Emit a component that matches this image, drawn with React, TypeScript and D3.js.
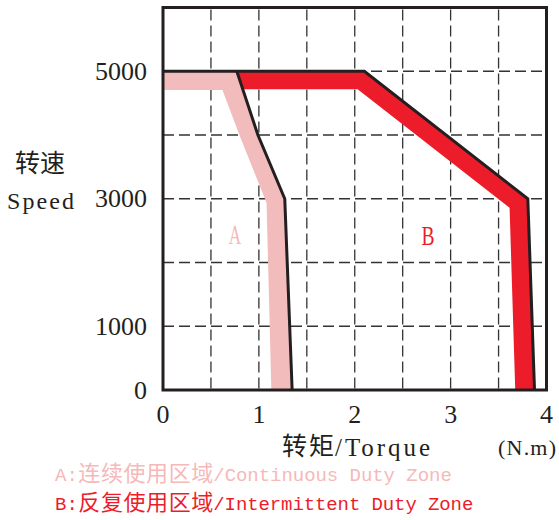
import React from "react";
import * as d3 from "d3";

const xTicks = [0, 1, 2, 3, 4];
const yTicks = [0, 1000, 3000, 5000];
const gridX = [0.5, 1, 1.5, 2, 2.5, 3, 3.5];
const gridY = [1000, 2000, 3000, 4000, 5000];

// Continuous duty zone (A)
const contOuterTorque = [0, 0.77, 0.99, 1.27, 1.347];
const contOuterSpeed = [5000, 5000, 4000, 3000, 0];
const contInnerTorque = [0, 0.62, 0.8, 1.08, 1.13];
const contInnerSpeed = [4706, 4706, 3990, 2937, 0];

// Intermittent duty zone (B)
const intOuterTorque = [0.77, 2.1, 3.805, 3.875];
const intOuterSpeed = [5000, 5000, 3000, 0];
const intInnerTorque = [0.835, 2.03, 3.615, 3.674];
const intInnerSpeed = [4716, 4716, 2858, 0];

const PINK = "#f2bcbc";
const PINK_TEXT = "#f5b9b9";
const RED = "#ed1c2a";
const INK = "#231f20";
const CJK = "'Noto Sans CJK SC', sans-serif";
const SERIF = "'Liberation Serif', serif";
const MONO = "'Liberation Mono', monospace";

export default function App() {
  const x = d3.scaleLinear().domain([0, 4]).range([163, 546.5]);
  const y = d3.scaleLinear().domain([0, 6000]).range([390, 7.5]);

  const line = d3
    .line<[number, number]>()
    .x((d) => x(d[0]))
    .y((d) => y(d[1]));

  const zip = (t: number[], s: number[]) =>
    t.map((v, i) => [v, s[i]] as [number, number]);

  const contPoly = [
    ...zip(contOuterTorque, contOuterSpeed),
    ...zip(contInnerTorque, contInnerSpeed).reverse(),
  ];
  const intPoly = [
    ...zip(intOuterTorque, intOuterSpeed),
    ...zip(intInnerTorque, intInnerSpeed).reverse(),
  ];
  const topLine: [number, number][] = [
    [0, 5000],
    ...zip(intOuterTorque, intOuterSpeed).slice(1),
  ];
  const aLine = zip(contOuterTorque, contOuterSpeed).slice(1);

  return (
    <svg
      width={559}
      height={520}
      style={{ position: "absolute", left: 0, top: 0, background: "#fff" }}
    >
      {/* grid */}
      {gridX.map((g) => (
        <line
          key={"gx" + g}
          x1={x(g)}
          x2={x(g)}
          y1={y(6000) + 2}
          y2={y(0)}
          stroke="#333"
          strokeWidth={1.3}
          strokeDasharray="11 5"
        />
      ))}
      {gridY.map((g) => (
        <line
          key={"gy" + g}
          x1={x(0)}
          x2={x(4)}
          y1={y(g)}
          y2={y(g)}
          stroke="#333"
          strokeWidth={1.3}
          strokeDasharray="11 5"
        />
      ))}

      {/* zones */}
      <path d={line(intPoly)! + "Z"} fill={RED} />
      <path d={line(contPoly)! + "Z"} fill={PINK} />
      <path d={line(topLine)!} fill="none" stroke={INK} strokeWidth={3} strokeLinejoin="miter" />
      <path d={line(aLine)!} fill="none" stroke={INK} strokeWidth={3} strokeLinejoin="miter" />

      {/* frame */}
      <rect
        x={x(0)}
        y={y(6000)}
        width={x(4) - x(0)}
        height={y(0) - y(6000)}
        fill="none"
        stroke={INK}
        strokeWidth={3}
      />

      {/* zone labels */}
      <text x={235} y={243.5} fontFamily={SERIF} fontSize={27} fill={PINK_TEXT} textAnchor="middle" textLength={12.5} lengthAdjust="spacingAndGlyphs">A</text>
      <text x={428} y={245} fontFamily={SERIF} fontSize={27} fill={RED} textAnchor="middle" textLength={13} lengthAdjust="spacingAndGlyphs">B</text>

      {/* y ticks */}
      {yTicks.map((t) => (
        <text
          key={"yt" + t}
          x={147}
          y={y(t) + 8.5}
          fontFamily={SERIF}
          fontSize={26}
          fill={INK}
          textAnchor="end"
        >
          {t}
        </text>
      ))}
      {/* x ticks */}
      {xTicks.map((t) => (
        <text
          key={"xt" + t}
          x={x(t)}
          y={423}
          fontFamily={SERIF}
          fontSize={26}
          fill={INK}
          textAnchor="middle"
        >
          {t}
        </text>
      ))}

      {/* y axis title */}
      <text x={40} y={171.5} fontFamily={CJK} fontSize={25} fill={INK} textAnchor="middle">转速</text>
      <text x={7} y={209} fontFamily={SERIF} fontSize={24} fill={INK} textLength={67} lengthAdjust="spacing">Speed</text>

      {/* x axis title */}
      <text x={282} y={455} fontFamily={CJK} fontSize={25} fill={INK} textLength={52} lengthAdjust="spacing">转矩</text>
      <text x={335} y={455.5} fontFamily={SERIF} fontSize={25} fill={INK} textLength={95} lengthAdjust="spacing">/Torque</text>
      <text x={498} y={455} fontFamily={SERIF} fontSize={22} fill={INK} textLength={58} lengthAdjust="spacing">(N.m)</text>

      {/* legend */}
      <text x={55} y={481} fontFamily={MONO} fontSize={19} fill={PINK_TEXT}>A:</text>
      <text x={78.3} y={481} fontFamily={CJK} fontSize={22} fill={PINK_TEXT} textLength={135} lengthAdjust="spacing">连续使用区域</text>
      <text x={213.3} y={481} fontFamily={MONO} fontSize={19} fill={PINK_TEXT} textLength={238.5} lengthAdjust="spacing">/Continuous Duty Zone</text>

      <text x={55} y={510} fontFamily={MONO} fontSize={19} fill={RED}>B:</text>
      <text x={78.3} y={510} fontFamily={CJK} fontSize={22} fill={RED} textLength={135} lengthAdjust="spacing">反复使用区域</text>
      <text x={213.3} y={510} fontFamily={MONO} fontSize={19} fill={RED} textLength={260} lengthAdjust="spacing">/Intermittent Duty Zone</text>
    </svg>
  );
}
